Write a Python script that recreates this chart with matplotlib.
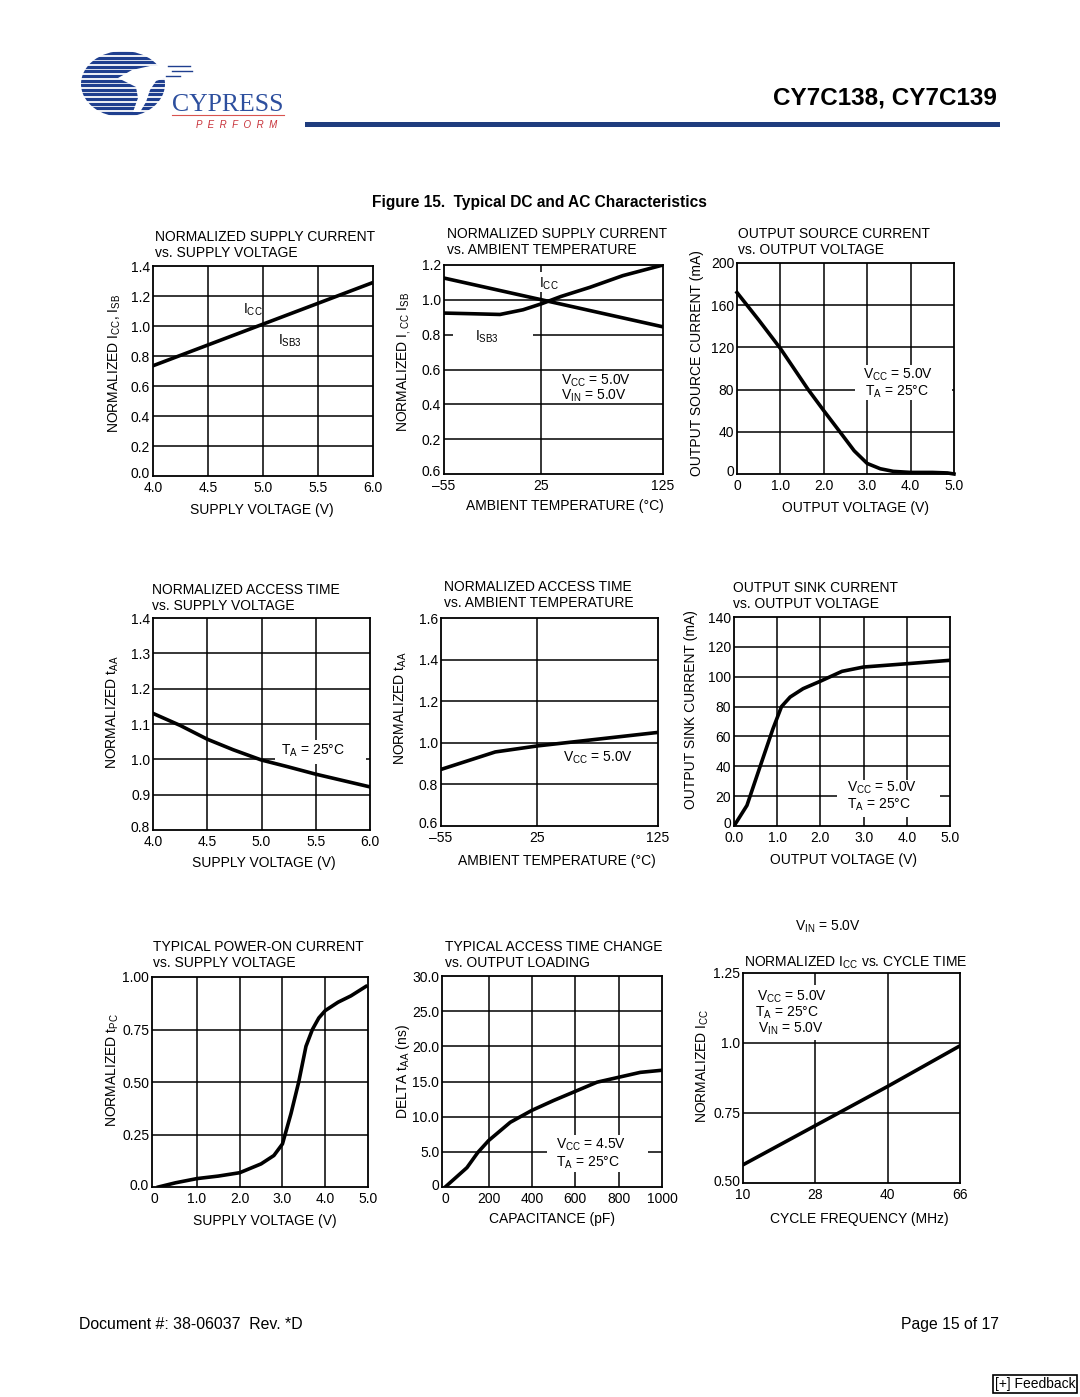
import numpy as np
import matplotlib.pyplot as plt
from matplotlib.patches import Rectangle, Ellipse, Polygon
from matplotlib.transforms import ScaledTranslation

plt.rcParams['font.family'] = 'Liberation Sans'
plt.rcParams['mathtext.fontset'] = 'custom'
plt.rcParams['mathtext.rm'] = 'Liberation Sans'
plt.rcParams['mathtext.default'] = 'regular'

W, H = 1080, 1397

# 1) normalized supply current vs supply voltage
sv1 = [4.0, 6.0]
icc1 = [0.735, 1.29]

# 2) normalized supply current vs ambient temperature
t2_icc = [-55, 125]
icc2 = [1.125, 0.845]
t2_isb = [-55, -31, -9, 10, 25, 41, 65, 92, 125]
isb2 = [0.924, 0.920, 0.916, 0.943, 0.977, 1.019, 1.072, 1.139, 1.20]

# 3) output source current vs output voltage
ov3 = [0, 0.5, 1.0, 1.64, 2.0, 2.37, 2.7, 3.0, 3.3, 3.6, 4.0, 4.5, 4.85, 5.0]
src3 = [172, 146, 119, 80, 60, 40, 22, 10, 5, 2.5, 1.5, 1.5, 1, 0]

# 4) normalized access time vs supply voltage
sv4 = [4.0, 4.25, 4.5, 4.74, 5.0, 5.23, 5.5, 6.0]
taa4 = [1.13, 1.096, 1.057, 1.027, 0.998, 0.98, 0.958, 0.922]

# 5) normalized access time vs ambient temperature
t5 = [-55, -10, 25, 125]
taa5 = [0.872, 0.956, 0.985, 1.05]

# 6) output sink current vs output voltage
ov6 = [0.0, 0.3, 0.6, 0.9, 1.1, 1.3, 1.6, 2.0, 2.5, 3.0, 4.0, 5.0]
snk6 = [0, 13.8, 39.5, 65, 80, 86.4, 92, 97, 103.6, 106.5, 108.7, 111]

# 7) typical power-on current vs supply voltage
sv7 = [0.1, 0.5, 1.0, 1.5, 2.0, 2.5, 2.8, 3.0, 3.2, 3.38, 3.55, 3.7, 3.85, 4.0, 4.3, 4.6, 4.95]
tpc7 = [0, 0.02, 0.04, 0.052, 0.068, 0.11, 0.15, 0.205, 0.35, 0.5, 0.67, 0.75, 0.805, 0.84, 0.88, 0.91, 0.955]

# 8) typical access time change vs output loading
cap8 = [0, 100, 150, 200, 300, 400, 500, 600, 700, 800, 900, 1000]
dtaa8 = [0, 2.75, 4.9, 6.6, 9.2, 10.9, 12.3, 13.6, 14.9, 15.6, 16.3, 16.6]

# 9) normalized Icc vs cycle frequency
freq9 = ['10', '28', '40', '66']
icc9 = [0.565, 0.705, 0.845, 0.99]

fig = plt.figure(figsize=(W / 100, H / 100), dpi=100)


def ftext(x, y, s, **kw):
    kw.setdefault('fontsize', 10)
    kw.setdefault('va', 'baseline')
    return fig.text(x / W, 1 - y / H, s, **kw)


def panel(box, xlim, ylim, xticks, xtl, yticks, ytl, xgrid, ygrid):
    l, t, r, b = box
    ax = fig.add_axes([l / W, 1 - b / H, (r - l) / W, (b - t) / H])
    ax.set_xlim(xlim)
    ax.set_ylim(ylim)
    ax.set_xticks(xticks, xtl)
    ax.set_yticks(yticks, ytl)
    ax.tick_params(length=0, labelsize=10)
    ax.tick_params(axis='x', pad=3.5)
    ax.tick_params(axis='y', pad=2)
    # bottom y label sits a little above the frame corner
    lab0 = ax.get_yticklabels()[0]
    lab0.set_transform(lab0.get_transform() + ScaledTranslation(0, 3 / 100, fig.dpi_scale_trans))
    for x in xgrid:
        ax.axvline(x, color='k', lw=1.1, zorder=0.5)
    for y in ygrid:
        ax.axhline(y, color='k', lw=1.1, zorder=0.5)
    for s in ax.spines.values():
        s.set_linewidth(1.3)
    return ax


def mask(ax, x0, y0, x1, y1):
    ax.add_patch(Rectangle((x0 / W, 1 - y1 / H), (x1 - x0) / W, (y1 - y0) / H,
                           transform=fig.transFigure, facecolor='white',
                           edgecolor='none', zorder=1, clip_on=False))


def labels(title, tx, ty, xlab, xl, yl_txt, yx, yy):
    for i, line in enumerate(title):
        ftext(tx, ty + 5 + 16 * i, line)
    ftext(xl[0], xl[1] + 5, xlab, ha='center')
    ftext(yx, yy, yl_txt, rotation=90, ha='center', va='center')


lw = 2.6

# ---- row 1
ax = panel((153, 266, 373, 476), (4, 6), (0, 1.4), [4, 4.5, 5, 5.5, 6],
           ['4.0', '4.5', '5.0', '5.5', '6.0'], np.arange(0, 1.41, 0.2),
           ['0.0', '0.2', '0.4', '0.6', '0.8', '1.0', '1.2', '1.4'],
           [4.5, 5, 5.5], np.arange(0.2, 1.3, 0.2))
ax.plot(sv1, icc1, color='k', lw=lw, zorder=2)
ftext(243, 314, 'I$_{CC}$')
ftext(278, 345, 'I$_{SB3}$')
labels(['NORMALIZED SUPPLY CURRENT', 'vs. SUPPLY VOLTAGE'], 155, 236,
       'SUPPLY VOLTAGE (V)', (262, 509), 'NORMALIZED I$_{CC}$, I$_{SB}$', 115, 363)

ax = panel((444, 265, 663, 474), (-55, 125), (0, 1.2), [-55, 25, 125],
           ['\u201355', '25', '125'], np.arange(0, 1.21, 0.2),
           ['0.6', '0.2', '0.4', '0.6', '0.8', '1.0', '1.2'],
           [25], np.arange(0.2, 1.1, 0.2))
ax.plot(t2_icc, icc2, color='k', lw=lw, zorder=2)
ax.plot(t2_isb, isb2, color='k', lw=lw, zorder=2)
mask(ax, 536, 272, 562, 292)
mask(ax, 453, 329, 533, 342)
ftext(539, 288, 'I$_{CC}$')
ftext(475, 341, 'I$_{SB3}$')
ftext(561, 385, 'V$_{CC}$ = 5.0V')
ftext(561, 400, 'V$_{IN}$ = 5.0V')
labels(['NORMALIZED SUPPLY CURRENT', 'vs. AMBIENT TEMPERATURE'], 447, 233,
       'AMBIENT TEMPERATURE (\u00b0C)', (565, 505), 'NORMALIZED I$_{,CC}$ I$_{SB}$', 404, 362)

ax = panel((737, 263, 954, 474), (0, 5), (0, 200), [0, 1, 2, 3, 4, 5],
           ['0', '1.0', '2.0', '3.0', '4.0', '5.0'], np.arange(0, 201, 40),
           ['0', '40', '80', '120', '160', '200'],
           [1, 2, 3, 4], [40, 80, 120, 160])
ax.plot(ov3, src3, color='k', lw=lw, zorder=2, clip_on=False)
mask(ax, 855, 365, 952, 400)
ftext(863, 379, 'V$_{CC}$ = 5.0V')
ftext(865, 396, 'T$_A$ = 25\u00b0C')
labels(['OUTPUT SOURCE CURRENT', 'vs. OUTPUT VOLTAGE'], 738, 233,
       'OUTPUT VOLTAGE (V)', (855, 507), 'OUTPUT SOURCE CURRENT (mA)', 697, 363)

# ---- row 2
ax = panel((153, 618, 370, 830), (4, 6), (0.8, 1.4), [4, 4.5, 5, 5.5, 6],
           ['4.0', '4.5', '5.0', '5.5', '6.0'], np.arange(0.8, 1.41, 0.1),
           ['0.8', '0.9', '1.0', '1.1', '1.2', '1.3', '1.4'],
           [4.5, 5, 5.5], np.arange(0.9, 1.35, 0.1))
mask(ax, 275, 740, 366, 764)
ax.plot(sv4, taa4, color='k', lw=lw, zorder=2)
ftext(281, 755, 'T$_A$ = 25\u00b0C')
labels(['NORMALIZED ACCESS TIME', 'vs. SUPPLY VOLTAGE'], 152, 589,
       'SUPPLY VOLTAGE (V)', (264, 862), 'NORMALIZED t$_{AA}$', 113, 712)

ax = panel((441, 618, 658, 826), (-55, 125), (0.6, 1.6), [-55, 25, 125],
           ['\u201355', '25', '125'], np.arange(0.6, 1.61, 0.2),
           ['0.6', '0.8', '1.0', '1.2', '1.4', '1.6'],
           [25], np.arange(0.8, 1.5, 0.2))
ax.plot(t5, taa5, color='k', lw=lw, zorder=2)
ftext(563, 762, 'V$_{CC}$ = 5.0V')
labels(['NORMALIZED ACCESS TIME', 'vs. AMBIENT TEMPERATURE'], 444, 586,
       'AMBIENT TEMPERATURE (\u00b0C)', (557, 860), 'NORMALIZED t$_{AA}$', 401, 708)

ax = panel((734, 617, 950, 826), (0, 5), (0, 140), [0, 1, 2, 3, 4, 5],
           ['0.0', '1.0', '2.0', '3.0', '4.0', '5.0'], np.arange(0, 141, 20),
           ['0', '20', '40', '60', '80', '100', '120', '140'],
           [1, 2, 3, 4], np.arange(20, 121, 20))
mask(ax, 837, 780, 940, 817)
ax.plot(ov6, snk6, color='k', lw=lw, zorder=2)
ftext(847, 792, 'V$_{CC}$ = 5.0V')
ftext(847, 809, 'T$_A$ = 25\u00b0C')
labels(['OUTPUT SINK CURRENT', 'vs. OUTPUT VOLTAGE'], 733, 587,
       'OUTPUT VOLTAGE (V)', (843, 859), 'OUTPUT SINK CURRENT (mA)', 691, 710)

# ---- row 3
ax = panel((152, 977, 368, 1187), (-0.05, 5), (0, 1), [0, 1, 2, 3, 4, 5],
           ['0', '1.0', '2.0', '3.0', '4.0', '5.0'], [0, 0.25, 0.5, 0.75, 1.0],
           ['0.0', '0.25', '0.50', '0.75', '1.00'],
           [1, 2, 3, 4], [0.25, 0.5, 0.75])
ax.plot(sv7, tpc7, color='k', lw=lw, zorder=2)
labels(['TYPICAL POWER-ON CURRENT', 'vs. SUPPLY VOLTAGE'], 153, 946,
       'SUPPLY VOLTAGE (V)', (265, 1220), 'NORMALIZED t$_{PC}$', 113, 1070)

ax = panel((442, 976, 662, 1187), (-15, 1000), (0, 30), [0, 200, 400, 600, 800, 1000],
           ['0', '200', '400', '600', '800', '1000'], np.arange(0, 31, 5),
           ['0', '5.0', '10.0', '15.0', '20.0', '25.0', '30.0'],
           [200, 400, 600, 800], np.arange(5, 26, 5))
mask(ax, 547, 1135, 648, 1172)
ax.plot(cap8, dtaa8, color='k', lw=lw, zorder=2)
ftext(556, 1149, 'V$_{CC}$ = 4.5V')
ftext(556, 1167, 'T$_A$ = 25\u00b0C')
labels(['TYPICAL ACCESS TIME CHANGE', 'vs. OUTPUT LOADING'], 445, 946,
       'CAPACITANCE (pF)', (552, 1218), 'DELTA t$_{AA}$ (ns)', 403, 1072)

pos9 = np.arange(len(freq9))
ax = panel((743, 973, 960, 1183), (0, 3), (0.5, 1.25), pos9, freq9,
           [0.5, 0.75, 1.0, 1.25], ['0.50', '0.75', '1.0', '1.25'],
           [1, 2], [0.75, 1.0])
mask(ax, 752, 985, 830, 1040)
ax.plot(pos9, icc9, color='k', lw=lw, zorder=2)
ftext(757, 1001, 'V$_{CC}$ = 5.0V')
ftext(755, 1017, 'T$_A$ = 25\u00b0C')
ftext(758, 1033, 'V$_{IN}$ = 5.0V')
ftext(744, 967, 'NORMALIZED I$_{CC}$ vs. CYCLE TIME')
ftext(795, 931, 'V$_{IN}$ = 5.0V')
ftext(859, 1223, 'CYCLE FREQUENCY (MHz)', ha='center')
ftext(703, 1066, 'NORMALIZED I$_{CC}$', rotation=90, ha='center', va='center')

# ---- page header
ftext(997, 105, 'CY7C138, CY7C139', ha='right', fontsize=17.5, fontweight='bold')
fig.add_artist(Rectangle((305 / W, 1 - 127 / H), 695 / W, 5 / H, transform=fig.transFigure,
                         facecolor='#1f3c7e', edgecolor='none'))
ftext(539, 207, 'Figure 15.  Typical DC and AC Characteristics', ha='center',
      fontsize=11.2, fontweight='bold')

# logo
lg = fig.add_axes([75 / W, 1 - 135 / H, 215 / W, 95 / H])
lg.set_xlim(75, 290)
lg.set_ylim(135, 40)
lg.axis('off')
ell = Ellipse((123, 84), 84, 66, transform=lg.transData)
for yy in np.arange(53, 117, 4.6):
    ln, = lg.plot([80, 170], [yy, yy], color='#1f3f8f', lw=2.3, solid_capstyle='butt')
    ln.set_clip_path(ell)
lg.add_patch(Polygon([(118, 78), (132, 70), (150, 66), (170, 65), (190, 70), (186, 75),
                      (168, 77), (156, 81), (150, 90), (146, 102), (140, 112), (133, 112),
                      (138, 98), (136, 87), (126, 82)], closed=True,
                     facecolor='white', edgecolor='none', zorder=3))
for yy, x0, x1 in [(66, 168, 190), (71, 172, 192), (76, 166, 180)]:
    lg.plot([x0, x1], [yy, yy], color='#1f3f8f', lw=1.0, zorder=4)
lg.text(172, 111, 'CYPRESS', fontsize=18.5, family='Liberation Serif', color='#2d4f9e',
        va='baseline')
lg.plot([172, 284], [115, 115], color='#d9534f', lw=0.8)
lg.text(196, 128, 'P  E  R  F  O  R  M', fontsize=7, color='#c8323a', style='italic',
        va='baseline')

# footer
ftext(79, 1329, 'Document #: 38-06037  Rev. *D', fontsize=11.4)
ftext(999, 1329, 'Page 15 of 17', ha='right', fontsize=11.3)
ftext(1035, 1388, '[+] Feedback', ha='center', fontsize=10,
      bbox=dict(facecolor='white', edgecolor='black', lw=1.2, pad=1.2))

fig.savefig('out.png', dpi=100)
